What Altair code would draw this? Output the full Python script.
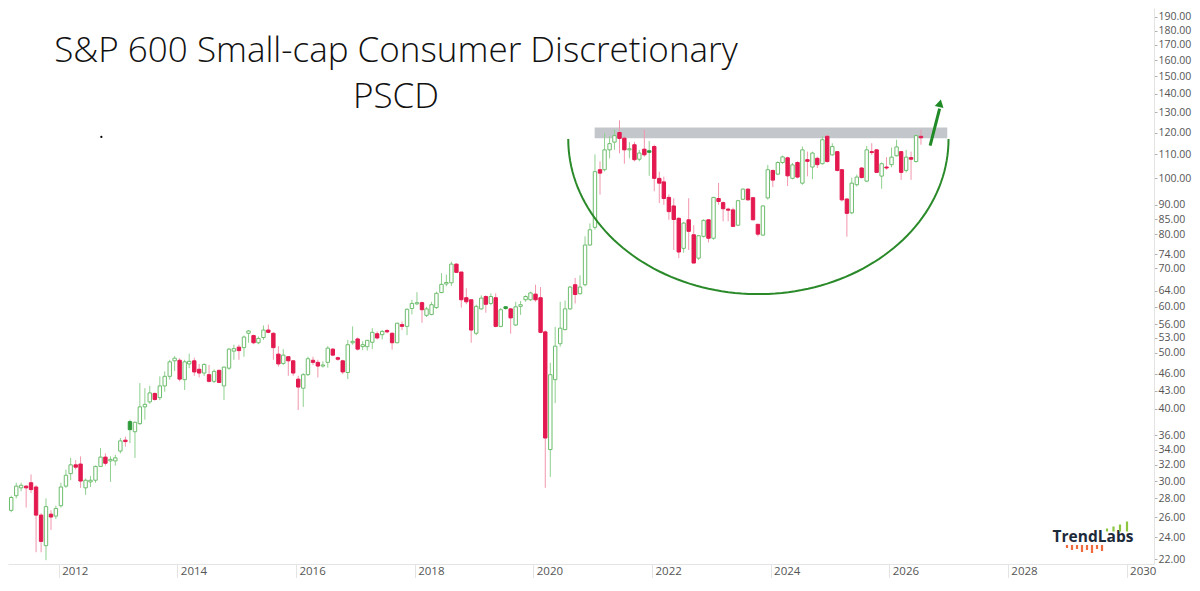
import math
import numpy as np
import pandas as pd
import altair as alt

# ---------------- monthly candles, March 2011 .. July 2026 ----------------
FIRST_MONTH = "2011-03-01"

opens = [
    26.7, 28.3, 29.2, 29.4, 29.8, 29.3, 26.2, 23.2, 26.3, 26.1,                    # 2011 Mar-Dec
    27.2, 29.4, 30.9, 32.0, 32.1, 29.2, 29.9, 30.1, 31.8, 33.0, 32.5, 32.5,        # 2012
    33.8, 35.3, 38.0, 36.5, 37.7, 40.3, 41.1, 42.5, 41.8, 43.8, 45.5, 48.4,        # 2013
    48.5, 44.9, 47.8, 48.4, 46.8, 46.1, 45.8, 44.6, 46.6, 43.8, 47.0, 50.3,        # 2014
    51.1, 51.0, 54.0, 53.5, 52.0, 53.1, 54.7, 54.0, 49.7, 47.9, 49.2, 48.4,        # 2015
    45.0, 43.4, 45.8, 48.5, 48.1, 47.4, 48.1, 50.7, 49.0, 48.4, 46.2, 52.0,        # 2016
    52.8, 51.2, 51.2, 52.1, 53.9, 53.7, 54.6, 54.0, 52.0, 55.9, 55.5, 59.6,        # 2017
    60.7, 61.0, 58.0, 58.2, 59.8, 63.5, 65.7, 66.0, 71.1, 68.9, 62.2, 61.7,        # 2018
    54.0, 59.5, 62.5, 60.8, 62.2, 55.5, 60.0, 59.5, 55.8, 60.1, 61.7, 61.7,        # 2019
    63.1, 62.2, 54.3, 34.0, 44.9, 51.8, 54.8, 59.5, 65.5, 63.2, 65.5, 76.7,        # 2020
    82.3, 103.5, 103.5, 112.0, 115.5, 120.0, 117.3, 112.0, 114.3, 107.9, 112.3, 111.6,  # 2021
    113.5, 100.0, 98.6, 92.7, 89.6, 85.3, 75.7, 84.8, 79.9, 72.8, 79.4, 84.8,      # 2022
    78.8, 92.3, 90.8, 88.5, 88.2, 83.0, 92.0, 95.8, 92.6, 83.3, 79.8, 92.5,        # 2023
    103.2, 101.7, 106.5, 108.5, 100.0, 106.5, 98.1, 107.7, 104.6, 108.3, 106.0, 118.2,  # 2024
    109.8, 111.2, 103.5, 92.1, 87.2, 97.5, 104.2, 98.9, 111.2, 112.0, 100.9, 104.6,     # 2025
    105.6, 109.4, 111.2, 103.2, 108.6, 106.9, 118.2,                                # 2026 Jan-Jul
]
highs = [
    28.3, 29.8, 29.8, 29.5, 30.8, 29.5, 26.4, 28.0, 26.7, 27.2,
    29.8, 31.4, 32.9, 32.6, 33.1, 30.3, 30.6, 31.9, 34.2, 33.5, 33.1, 33.3,
    35.6, 35.8, 38.3, 38.0, 44.3, 43.4, 43.8, 42.7, 45.5, 46.4, 48.6, 49.3,
    48.9, 48.6, 49.8, 49.0, 47.8, 47.9, 47.6, 46.8, 46.7, 47.3, 50.9, 51.6,
    51.6, 53.5, 54.7, 53.7, 53.3, 55.7, 55.9, 54.2, 51.3, 50.7, 49.3, 48.5,
    45.6, 46.1, 49.2, 49.2, 48.6, 48.3, 51.3, 50.9, 49.2, 48.6, 52.6, 55.5,
    53.1, 52.3, 52.6, 55.1, 54.4, 54.7, 54.9, 54.2, 56.3, 56.6, 59.6, 61.7,
    63.6, 61.2, 60.0, 61.2, 63.7, 68.6, 68.2, 71.8, 71.3, 68.9, 64.6, 61.7,
    60.5, 62.8, 62.8, 63.3, 63.3, 59.7, 60.2, 59.7, 61.2, 61.4, 62.8, 63.7,
    65.5, 64.9, 54.6, 48.0, 55.4, 61.2, 61.5, 65.2, 67.3, 68.0, 79.4, 83.6,
    110.0, 107.0, 119.6, 118.2, 121.3, 126.0, 118.2, 115.5, 115.6, 112.0, 121.3, 116.0,
    114.3, 102.7, 100.7, 93.8, 92.4, 85.7, 84.1, 92.4, 83.0, 79.8, 85.0, 85.0,
    92.9, 98.2, 91.2, 89.0, 89.0, 91.8, 96.1, 96.1, 92.8, 83.4, 89.9, 105.5,
    103.5, 107.0, 109.5, 109.0, 106.3, 107.0, 113.5, 111.2, 111.2, 109.0, 118.2, 119.0,
    115.0, 111.5, 103.8, 92.5, 100.3, 101.5, 104.6, 113.8, 115.0, 112.3, 106.5, 108.8,
    113.0, 116.6, 111.5, 112.0, 111.2, 119.0, 121.3,
]
lows = [
    26.5, 28.0, 28.8, 27.0, 28.6, 22.6, 22.6, 21.9, 24.7, 25.8,
    27.0, 29.2, 30.1, 31.4, 29.2, 28.4, 29.3, 29.8, 31.8, 31.9, 29.9, 31.9,
    33.5, 34.4, 34.9, 32.9, 37.5, 38.3, 40.8, 41.3, 41.4, 42.8, 44.9, 46.5,
    44.6, 43.1, 47.0, 45.6, 45.3, 45.6, 44.4, 44.3, 44.3, 41.4, 46.7, 48.6,
    48.6, 49.2, 52.0, 51.7, 51.7, 52.6, 54.0, 48.6, 47.3, 47.6, 45.6, 45.6,
    39.8, 40.3, 45.6, 47.6, 45.3, 47.1, 47.1, 49.4, 48.4, 45.9, 45.0, 51.6,
    50.4, 50.5, 50.4, 50.7, 52.7, 52.7, 54.0, 50.6, 51.9, 54.7, 53.6, 58.2,
    60.4, 56.3, 57.6, 58.0, 59.5, 63.3, 65.1, 65.2, 68.6, 59.8, 60.6, 52.0,
    53.6, 59.3, 58.6, 60.4, 55.3, 55.3, 59.3, 53.9, 55.6, 58.1, 61.2, 61.4,
    61.2, 54.0, 29.2, 30.5, 40.9, 51.2, 54.6, 59.3, 60.8, 63.0, 65.1, 76.5,
    81.5, 93.7, 102.8, 108.3, 112.0, 110.5, 106.0, 108.3, 107.0, 107.0, 109.0, 101.0,
    95.0, 90.6, 90.0, 84.8, 75.2, 72.8, 74.4, 75.2, 71.3, 72.3, 79.0, 77.5,
    78.3, 90.0, 84.3, 84.3, 82.4, 82.7, 91.8, 91.5, 84.6, 79.4, 79.6, 91.9,
    96.6, 101.3, 105.9, 97.0, 99.6, 100.0, 97.5, 100.8, 99.7, 104.2, 105.6, 106.5,
    109.4, 102.8, 91.2, 79.3, 86.7, 96.8, 100.0, 98.5, 109.8, 102.2, 95.9, 103.5,
    104.5, 109.1, 99.4, 102.4, 99.4, 106.5, 114.3,
]
closes = [
    28.1, 29.4, 29.5, 29.2, 29.0, 26.2, 23.6, 27.1, 26.0, 26.9,
    29.3, 30.7, 32.0, 31.7, 30.0, 30.1, 30.1, 31.8, 33.0, 32.2, 32.7, 32.9,
    35.2, 35.1, 36.8, 37.9, 40.3, 40.7, 42.6, 41.5, 43.8, 45.5, 48.2, 48.9,
    45.0, 48.2, 48.3, 46.3, 46.1, 47.7, 44.6, 46.4, 44.4, 47.2, 50.7, 50.8,
    50.4, 53.2, 54.5, 52.0, 52.9, 54.7, 54.2, 51.0, 47.8, 49.5, 48.4, 46.1,
    43.6, 45.8, 48.8, 48.1, 47.4, 47.6, 50.9, 49.5, 48.7, 46.3, 51.6, 52.3,
    50.7, 51.6, 52.5, 54.2, 53.0, 54.4, 54.3, 52.0, 56.2, 55.5, 59.4, 60.8,
    61.0, 59.3, 59.5, 60.5, 63.3, 65.6, 66.1, 71.1, 68.8, 61.7, 61.2, 54.7,
    60.1, 62.1, 60.6, 62.5, 55.5, 59.3, 59.6, 57.4, 60.0, 60.5, 62.5, 63.4,
    61.7, 54.2, 35.6, 45.8, 51.3, 55.1, 59.5, 64.9, 63.0, 64.9, 76.7, 81.5,
    102.7, 102.1, 112.0, 114.8, 118.5, 117.2, 112.0, 112.5, 107.7, 110.6, 109.8, 110.9,
    100.0, 98.1, 92.3, 87.6, 84.9, 74.6, 83.7, 81.0, 71.4, 79.6, 84.6, 78.8,
    92.7, 91.2, 88.6, 88.1, 82.6, 91.5, 95.8, 91.8, 84.8, 80.1, 89.6, 103.5,
    99.3, 106.5, 108.9, 101.0, 105.5, 100.5, 112.0, 107.0, 110.6, 105.6, 116.6, 106.9,
    113.5, 103.2, 91.8, 87.0, 98.1, 100.5, 100.3, 112.0, 110.8, 102.4, 106.0, 104.2,
    108.8, 113.3, 102.4, 108.8, 107.9, 118.5, 117.5,
]

y_ticks = [22, 24, 26, 28, 30, 32, 34, 36, 40, 43, 46, 50, 53, 56, 60, 64, 70, 74,
           80, 85, 90, 100, 110, 120, 130, 140, 150, 160, 170, 180, 190]
x_tick_years = [2012, 2014, 2016, 2018, 2020, 2022, 2024, 2026, 2028, 2030]

title_line1 = "S&P 600 Small-cap Consumer Discretionary"
title_line2 = "PSCD"
logo_text = "TrendLabs"

# annotations (data units)
band_start, band_end = "2021-01-13", "2026-12-24"
band_low, band_high = 117.3, 122.4
arc_left_year, arc_right_year = 2020.59, 2027.0
arc_end_value, arc_bottom_value = 116.9, 63.1
arrow_start = (2026.69, 113.9)
arrow_end = (2026.85, 132.0)
arrow_head = (2026.856, 134.8)
dot_point = (2012.72, 117.9)


def frac_year(y):
    return pd.Timestamp("2000-01-01") + pd.to_timedelta((y - 2000) * 365.25, unit="D")


# ---------------- frames ----------------
n = len(opens)
dates = pd.date_range(FIRST_MONTH, periods=n, freq="MS") + pd.Timedelta(days=14)
prev = [opens[0]] + closes[:-1]
kinds, dirs = [], []
for o, c, p in zip(opens, closes, prev):
    up = c >= p
    hollow = c >= o
    dirs.append("up" if up else "down")
    kinds.append(("up" if up else "down") + ("_hollow" if hollow else "_filled"))
df = pd.DataFrame({"date": dates, "open": opens, "high": highs, "low": lows,
                   "close": closes, "kind": kinds, "dir": dirs})

band_df = pd.DataFrame({"x0": [pd.Timestamp(band_start)], "x1": [pd.Timestamp(band_end)],
                        "lo": [band_low], "hi": [band_high]})

ts = np.linspace(0, math.pi, 90)
cx = (arc_left_year + arc_right_year) / 2
ax_ = (arc_right_year - arc_left_year) / 2
b_log = math.log(arc_end_value / arc_bottom_value)
arc_df = pd.DataFrame({
    "date": [frac_year(cx - ax_ * math.cos(t)) for t in ts],
    "value": [arc_end_value * math.exp(-b_log * math.sin(t)) for t in ts],
    "i": list(range(len(ts))),
})
arrow_df = pd.DataFrame({"date": [frac_year(arrow_start[0]), frac_year(arrow_end[0])],
                         "value": [arrow_start[1], arrow_end[1]], "i": [0, 1]})
head_df = pd.DataFrame({"date": [frac_year(arrow_head[0])], "value": [arrow_head[1]]})
dot_df = pd.DataFrame({"date": [frac_year(dot_point[0])], "value": [dot_point[1]]})

# ---------------- scales / axes ----------------
x_scale = alt.Scale(domain=[alt.DateTime(year=2011, month=3, date=26),
                            alt.DateTime(year=2030, month=5, date=19)])
y_scale = alt.Scale(type="log", domain=[21.57, 196.9], nice=False, zero=False)
x_axis = alt.Axis(values=[alt.DateTime(year=y, month=1, date=1) for y in x_tick_years],
                  format="%Y", title=None, grid=False, orient="bottom",
                  domainColor="#e4e4e4", tickColor="#e4e4e4", tickSize=22,
                  labelAlign="left", labelBaseline="alphabetic", labelPadding=-11.5,
                  labelOffset=3, labelColor="#555555", labelFontSize=11.5,
                  labelFont="Open Sans", labelFlush=False, labelOverlap=False)
y_axis = alt.Axis(values=y_ticks, format=".2f", title=None, grid=False, orient="right",
                  domainColor="#e4e4e4", tickColor="#b0b0b0", tickSize=3,
                  labelColor="#555555", labelFontSize=10.5, labelFont="Open Sans",
                  labelPadding=1, labelOverlap=False, labelFlush=False)


def X(f):
    return alt.X(f"{f}:T", scale=x_scale, axis=x_axis)


def Y(f):
    return alt.Y(f"{f}:Q", scale=y_scale, axis=y_axis)


band = alt.Chart(band_df).mark_rect(color="#c3c7cc", clip=True).encode(
    x=X("x0"), x2="x1:T", y=Y("lo"), y2="hi:Q")

wicks = alt.Chart(df).mark_rule(strokeWidth=1, clip=True).encode(
    x=X("date"), y=Y("low"), y2="high:Q",
    color=alt.Color("dir:N", scale=alt.Scale(domain=["up", "down"],
                                             range=["#8fd08f", "#f296ad"]), legend=None))

kind_dom = ["up_hollow", "up_filled", "down_filled", "down_hollow"]
bodies = alt.Chart(df).mark_bar(size=3.4, strokeWidth=1, clip=True).encode(
    x=X("date"), y=Y("open"), y2="close:Q",
    fill=alt.Fill("kind:N", scale=alt.Scale(domain=kind_dom,
                  range=["#ffffff", "#2f9a3a", "#e3194f", "#ffffff"]), legend=None),
    stroke=alt.Stroke("kind:N", scale=alt.Scale(domain=kind_dom,
                      range=["#6dbd6d", "#2f9a3a", "#e3194f", "#e3194f"]), legend=None))

arc = alt.Chart(arc_df).mark_line(color="#2a8a2a", strokeWidth=2).encode(
    x=X("date"), y=Y("value"), order="i:Q")

arrow = alt.Chart(arrow_df).mark_line(color="#1f8a26", strokeWidth=3).encode(
    x=X("date"), y=Y("value"), order="i:Q")
head = alt.Chart(head_df).mark_point(shape="triangle-up", filled=True, size=80,
                                     angle=13, color="#1f8a26", opacity=1).encode(
    x=X("date"), y=Y("value"))

dot = alt.Chart(dot_df).mark_circle(size=5, color="#000000", opacity=1).encode(
    x=X("date"), y=Y("value"))

t1 = alt.Chart(pd.DataFrame({"t": [title_line1]})).mark_text(
    font="Open Sans", fontSize=35, fontWeight=300, align="center", baseline="alphabetic",
    color="#111111"
).encode(text="t:N", x=alt.value(388), y=alt.value(53.7))
t2 = alt.Chart(pd.DataFrame({"t": [title_line2]})).mark_text(
    font="Open Sans", fontSize=35, fontWeight=300, align="center", baseline="alphabetic",
    color="#111111"
).encode(text="t:N", x=alt.value(388), y=alt.value(99.5))

logo = alt.Chart(pd.DataFrame({"t": [logo_text]})).mark_text(
    font="Open Sans", fontSize=15.5, fontWeight="bold", align="center",
    baseline="alphabetic", color="#1d2a3a"
).encode(text="t:N", x=alt.value(1085), y=alt.value(534))

logo_layers = []
green_bars = [(1099, 3), (1105.5, 5), (1112, 7), (1119, 10)]
for px, h in green_bars:
    logo_layers.append(alt.Chart(pd.DataFrame({"k": [0]})).mark_rule(
        color="#8cc63f", strokeWidth=2.2).encode(
        x=alt.value(px), y=alt.value(523.5 - h), y2=alt.value(523.5)))
orange_bars = [(1059, 3), (1064, 5), (1069, 4), (1074, 7), (1079, 5), (1084, 8), (1089, 4), (1094, 6)]
for px, h in orange_bars:
    logo_layers.append(alt.Chart(pd.DataFrame({"k": [0]})).mark_rule(
        color="#ef6b3d", strokeWidth=2.2).encode(
        x=alt.value(px), y=alt.value(537), y2=alt.value(537 + h)))

chart = alt.layer(band, wicks, bodies, arc, arrow, head, dot, t1, t2, logo, *logo_layers).properties(
    width=1146, height=556,
    padding={"left": 0, "top": 0, "right": 38, "bottom": 14},
    autosize=alt.AutoSizeParams(type="none"),
    background="white",
).configure_view(strokeWidth=0)

chart.save("out.html", embed_options={"renderer": "svg", "actions": False})
